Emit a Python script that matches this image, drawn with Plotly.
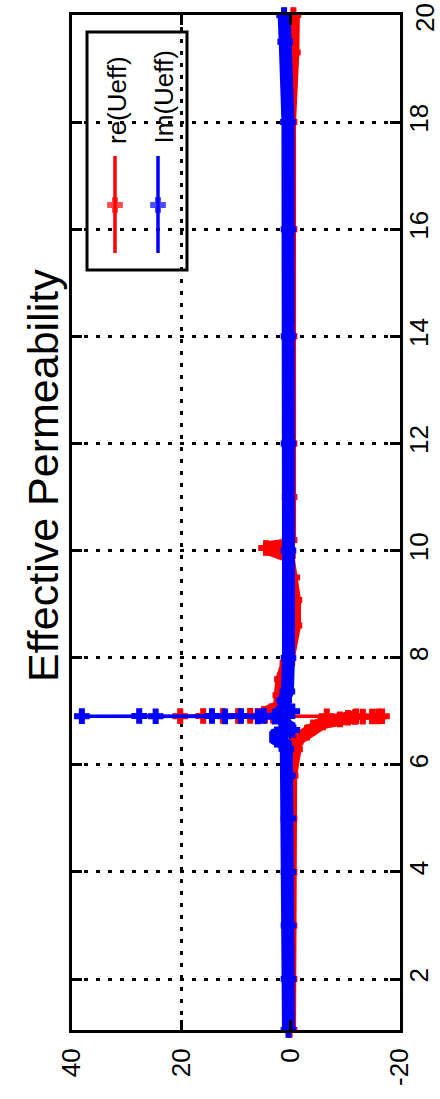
import plotly.graph_objects as go

# ---------------- data ----------------
# frequency (axis on the right, rotated figure) and values (axis at the bottom)
re_freq = [1.05, 2.0, 3.0, 4.0, 5.0, 5.8, 6.29, 6.42, 6.51, 6.60, 6.70, 6.79, 6.85,
           6.88, 6.895, 6.900, 6.903, 6.905, 6.907, 6.908, 6.909,
           6.910, 6.911, 6.912, 6.913, 6.914, 6.915, 6.916, 6.917,
           6.95, 7.0, 7.05, 7.09, 7.3, 7.6, 7.9, 8.6, 9.08, 9.5, 9.9, 10.05, 10.1, 10.2,
           11.0, 12.0, 14.0, 16.0, 18.0, 19.3, 20.0]
re_vals = [0.2, 0.2, 0.2, 0.2, 0.2, 0.0, -0.8, -0.9, -1.7, -3.0, -4.1, -5.9, -9.0,
           -10.5, -11.8, -13.2, -14.9, -16.0, -16.7, -12.0, -6.6,
           20.2, 16.0, 12.4, 9.6, 7.4, 6.0, 4.7, 3.2,
           4.9, 3.5, 2.5, 2.0, 1.9, 1.6, 0.6, -0.7, -0.7, -0.3, 0.5, 4.5, 1.0, 0.2,
           0.2, 0.2, 0.2, 0.2, 0.2, -0.4, -0.5]

im_freq = [1.05, 2.0, 3.0, 4.0, 5.0, 5.8, 6.3, 6.4, 6.47, 6.57, 6.65, 6.75, 6.85,
           6.900, 6.903, 6.906, 6.908, 6.910, 6.911, 6.912, 6.913, 6.914, 6.916,
           6.95, 7.0, 7.05, 7.2, 7.37, 8.0, 10.0, 12.0, 14.0, 16.0, 18.0, 19.5, 20.0]
im_vals = [0.4, 0.4, 0.4, 0.4, 0.4, 0.5, 0.8, 1.2, 2.5, 2.5, -0.3, 0.8, 1.5,
           2.9, 6.0, 12.0, 24.7, 38.2, 27.7, 14.4, 9.1, 4.9, 2.5,
           2.0, -0.3, 1.2, 1.2, 0.6, 0.4, 0.4, 0.4, 0.4, 0.4, 0.5, 1.0, 1.2]

value_ticks = [-20, 0, 20, 40]
value_ticktext = ["-20", "0", "20", "40"]
freq_ticks = [2, 4, 6, 8, 10, 12, 14, 16, 18, 20]
freq_ticktext = ["2", "4", "6", "8", "10", "12", "14", "16", "18", "20"]
series_names = ["re(Ueff)", "Im(Ueff)"]
title_text = "Effective Permeability"

RED = "#ff0000"
BLUE = "#0000ff"

# resonance window (points drawn as thin line with visible markers)
RES_LO, RES_HI = 6.899, 6.918


def band(freq, vals):
    xs, ys = [], []
    for f, v in zip(freq, vals):
        if RES_LO <= f <= RES_HI:
            if ys and ys[-1] is not None:
                xs.append(None)
                ys.append(None)
            continue
        xs.append(v)
        ys.append(f)
    return xs, ys


MARKER = dict(symbol="cross", size=12)

fig = go.Figure()

for freq, vals, col in [(re_freq, re_vals, RED), (im_freq, im_vals, BLUE)]:
    bx, by = band(freq, vals)
    fig.add_trace(go.Scatter(x=bx, y=by, mode="lines", line=dict(color=col, width=13),
                             connectgaps=False, hoverinfo="skip", showlegend=False))
    fig.add_trace(go.Scatter(x=vals, y=freq, mode="lines+markers",
                             line=dict(color=col, width=3.5),
                             marker=dict(color=col, line=dict(color=col, width=1.2), **MARKER),
                             cliponaxis=False, showlegend=False))

# ---------------- layout geometry (pixels) ----------------
W, H = 440, 1099
L, R, T, B = 72, 400, 15, 1030


def px(xp):
    return (xp - L) / (R - L)


def py(yp):
    return (B - yp) / (B - T)


FONT = "Liberation Sans, Arial, sans-serif"
tick_font = dict(family=FONT, size=26, color="black")

axis_common = dict(
    showline=True, linewidth=3, linecolor="black", mirror="ticks",
    ticks="inside", ticklen=10, tickwidth=3, tickcolor="black",
    showgrid=True, gridcolor="black", gridwidth=3, griddash="4px,8px",
    zeroline=False, tickangle=-90, tickfont=tick_font, automargin=False,
    ticklabeloverflow="allow",
)

# the top frequency label sits at the very top edge; it is placed as text below
freq_ticktext_axis = freq_ticktext[:-1] + [""]

fig.update_layout(
    width=W, height=H,
    margin=dict(l=L, r=W - R, t=T, b=H - B, pad=0, autoexpand=False),
    paper_bgcolor="white", plot_bgcolor="white",
    showlegend=False,
    xaxis=dict(range=[40, -20], tickvals=value_ticks, ticktext=value_ticktext,
               ticklabelstandoff=5, **axis_common),
    yaxis=dict(range=[1.05, 20.0], side="right", tickvals=freq_ticks,
               ticktext=freq_ticktext_axis, ticklabelstandoff=-6, **axis_common),
    xaxis2=dict(overlaying="x", range=[L, R], visible=False, fixedrange=True),
    yaxis2=dict(overlaying="y", range=[B, T], visible=False, fixedrange=True),
)

fig.add_annotation(text=freq_ticktext[-1], xref="paper", yref="paper",
                   x=px(425), y=py(18), xanchor="center", yanchor="middle",
                   textangle=-90, showarrow=False, font=tick_font)

# legend box
fig.add_shape(type="rect", xref="paper", yref="paper",
              x0=px(87), x1=px(187), y0=py(270), y1=py(32),
              line=dict(color="black", width=3), fillcolor="white", layer="between")

leg_x = [115, 158]
for name, col, lx, tx in zip(series_names, [RED, BLUE], leg_x, [117, 163]):
    fig.add_trace(go.Scatter(x=[lx, lx, lx], y=[156, 205, 253], xaxis="x2", yaxis="y2",
                             mode="lines+markers", line=dict(color=col, width=3.5),
                             marker=dict(symbol="cross", size=[0, 12, 0], color=col,
                                         line=dict(color=col, width=1.2)),
                             hoverinfo="skip", showlegend=False))
    fig.add_annotation(text=name, xref="paper", yref="paper", x=px(tx), y=py(146),
                       xanchor="center", yanchor="bottom", textangle=-90,
                       showarrow=False,
                       font=dict(family=FONT, size=26, color="black"))

# title (rotated)
fig.add_annotation(text=title_text, xref="paper", yref="paper", x=px(43), y=py(476),
                   xanchor="center", yanchor="middle", textangle=-90, showarrow=False,
                   font=dict(family=FONT, size=43, color="black"))

fig.write_html("out.html")
